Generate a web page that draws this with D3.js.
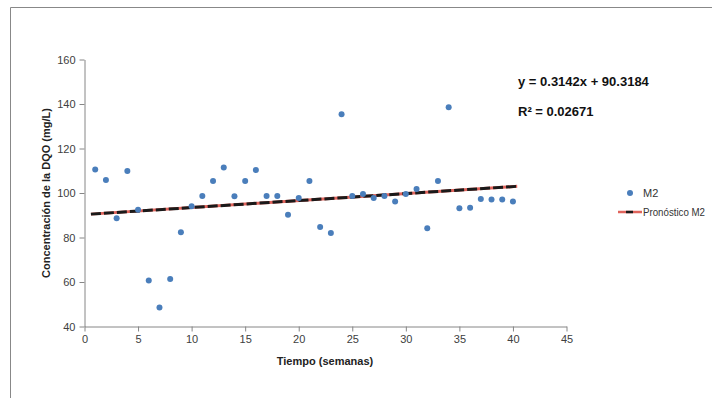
<!DOCTYPE html>
<html><head><meta charset="utf-8">
<script src="https://cdn.jsdelivr.net/npm/d3@7"></script>
<style>body{margin:0;background:#fff}svg{display:block}</style>
</head><body>
<script>
const weeks = d3.range(1, 41);
const m2 = [110.6,105.8,88.6,109.9,92.5,60.7,48.5,61.3,82.4,94.1,
            98.6,105.4,111.5,98.5,105.4,110.3,98.6,98.6,90.2,97.7,
            105.4,84.7,82.0,135.4,98.6,99.5,97.7,98.6,96.2,99.6,
            101.8,84.2,105.4,138.5,93.1,93.4,97.3,97.1,97.1,96.2];
const trendSlope = 0.3142, trendIntercept = 90.3184;
const trendX = [0.6, 40.4];
const xTicks = [0,5,10,15,20,25,30,35,40,45];
const yTicks = [40,60,80,100,120,140,160];
const eqText = "y = 0.3142x + 90.3184";
const r2Text = "R² = 0.02671";
const legendLabels = ["M2", "Pronóstico M2"];

const W = 712, H = 398;
const svg = d3.select("body").append("svg").attr("width", W).attr("height", H);
const font = "'Liberation Sans', Arial, sans-serif";
const axisColor = "#868686";

// frame
svg.append("path").attr("d", `M10.5,${H} V7.5 H${W}`).attr("fill","none").attr("stroke","#888").attr("stroke-width",1);

const x = d3.scaleLinear().domain([0,45]).range([84.5, 566.5]);
const y = d3.scaleLinear().domain([40,160]).range([326.5, 59.5]);

const xAxis = svg.append("g").attr("transform", `translate(0,${y(40)})`)
  .call(d3.axisBottom(x).tickValues(xTicks).tickSize(5).tickSizeOuter(0).tickPadding(4));
const yAxis = svg.append("g").attr("transform", `translate(${x(0)},0)`)
  .call(d3.axisLeft(y).tickValues(yTicks).tickSize(5).tickSizeOuter(0).tickPadding(4));
[xAxis, yAxis].forEach(g => {
  g.select(".domain").attr("stroke", axisColor);
  g.selectAll(".tick line").attr("stroke", axisColor);
  g.selectAll(".tick text").attr("fill","#404040").attr("font-family", font).attr("font-size", 11);
});

// trend line
const tl = d3.line().x(d => x(d)).y(d => y(trendSlope*d + trendIntercept));
svg.append("path").datum(trendX).attr("d", tl).attr("stroke","#e0645c").attr("stroke-width",3).attr("fill","none");
svg.append("path").datum(trendX).attr("d", tl).attr("stroke","#1a1a1a").attr("stroke-width",3)
  .attr("stroke-dasharray","10,3").attr("fill","none");

// points
svg.append("g").selectAll("circle").data(weeks).join("circle")
  .attr("cx", d => x(d)).attr("cy", (d,i) => y(m2[i])).attr("r", 3)
  .attr("fill", "#4a7ebb");

// equation
svg.append("text").attr("x", 518).attr("y", 86).text(eqText)
  .attr("font-family", font).attr("font-weight","bold").attr("font-size", 13).attr("fill","#111");
svg.append("text").attr("x", 518).attr("y", 116).text(r2Text)
  .attr("font-family", font).attr("font-weight","bold").attr("font-size", 13).attr("fill","#111");

// legend
svg.append("circle").attr("cx", 630).attr("cy", 193).attr("r", 3).attr("fill","#4a7ebb");
svg.append("text").attr("x", 643).attr("y", 197).text(legendLabels[0])
  .attr("font-family", font).attr("font-size", 11).attr("fill","#333");
svg.append("line").attr("x1",618).attr("x2",642).attr("y1",212).attr("y2",212)
  .attr("stroke","#e0645c").attr("stroke-width",2.5);
svg.append("line").attr("x1",626).attr("x2",633).attr("y1",212).attr("y2",212)
  .attr("stroke","#1a1a1a").attr("stroke-width",2.5);
svg.append("text").attr("x", 643).attr("y", 216).text(legendLabels[1])
  .attr("font-family", font).attr("font-size", 10.5).attr("fill","#333")
  .attr("textLength", 62).attr("lengthAdjust", "spacingAndGlyphs");

// axis titles
svg.append("text").attr("x", 325).attr("y", 365).attr("text-anchor","middle").text("Tiempo (semanas)")
  .attr("font-family", font).attr("font-weight","bold").attr("font-size", 11).attr("fill","#222");
svg.append("text").attr("transform","translate(50,193) rotate(-90)").attr("text-anchor","middle")
  .text("Concentración de la DQO (mg/L)")
  .attr("font-family", font).attr("font-weight","bold").attr("font-size", 11).attr("fill","#222");
</script>
</body></html>
